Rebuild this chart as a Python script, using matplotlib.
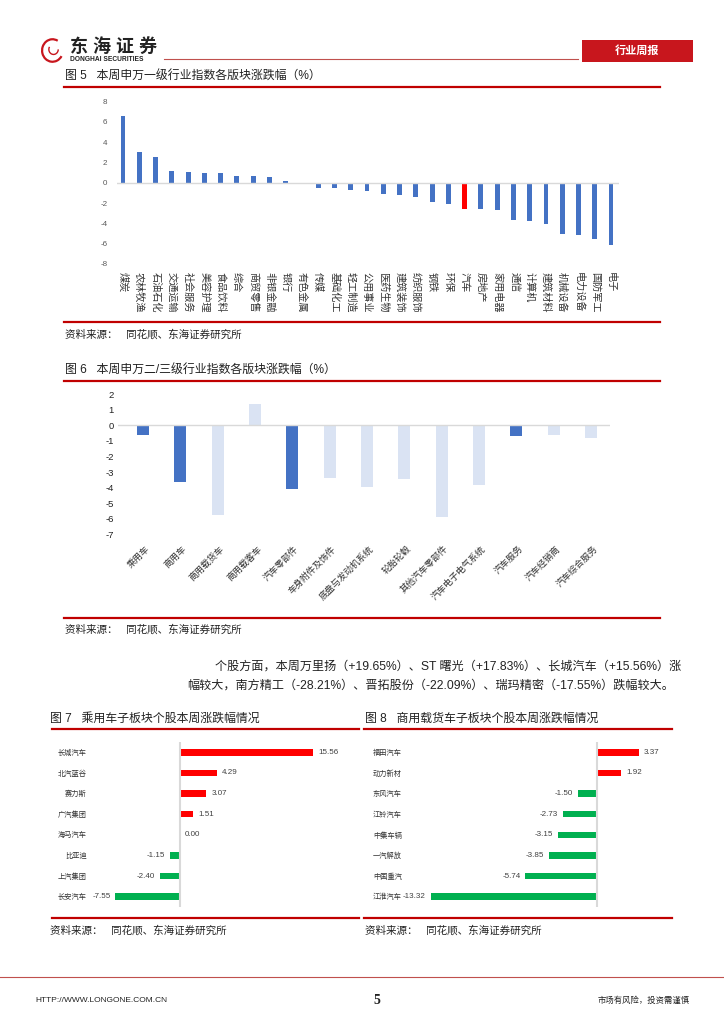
import matplotlib
matplotlib.use('Agg')
import matplotlib.pyplot as plt
from matplotlib.patches import Rectangle, Arc

plt.rcParams['font.family'] = ['Liberation Sans', 'Noto Sans CJK SC', 'DejaVu Sans']
plt.rcParams['axes.unicode_minus'] = False

W, H = 724, 1024

# 图5 申万一级行业
sw1_names = ['煤炭', '农林牧渔', '石油石化', '交通运输', '社会服务', '美容护理', '食品饮料',
             '综合', '商贸零售', '非银金融', '银行', '有色金属', '传媒', '基础化工', '轻工制造',
             '公用事业', '医药生物', '建筑装饰', '纺织服饰', '钢铁', '环保', '汽车', '房地产',
             '家用电器', '通信', '计算机', '建筑材料', '机械设备', '电力设备', '国防军工', '电子']
sw1_values = [6.62, 3.08, 2.59, 1.21, 1.11, 1.02, 0.95, 0.72, 0.72, 0.62, 0.23, 0.02,
              -0.46, -0.46, -0.66, -0.79, -1.13, -1.21, -1.41, -1.90, -2.10, -2.56, -2.59,
              -2.69, -3.64, -3.77, -4.07, -5.02, -5.15, -5.54, -6.16]
highlight = '汽车'

# 图6 申万二/三级行业
sw23_names = ['乘用车', '商用车', '商用载货车', '商用载客车', '汽车零部件', '车身附件及饰件',
              '底盘与发动机系统', '轮胎轮毂', '其他汽车零部件', '汽车电子电气系统',
              '汽车服务', '汽车经销商', '汽车综合服务']
sw23_values = [-0.60, -3.66, -5.76, 1.37, -4.07, -3.40, -3.96, -3.45, -5.89, -3.83,
               -0.69, -0.64, -0.79]
sw23_level2 = ['乘用车', '商用车', '汽车零部件', '汽车服务']

# 图7 乘用车
car_names = ['长城汽车', '北汽蓝谷', '赛力斯', '广汽集团', '海马汽车', '比亚迪', '上汽集团', '长安汽车']
car_values = [15.56, 4.29, 3.07, 1.51, 0.00, -1.15, -2.40, -7.55]

# 图8 商用载货车
truck_names = ['福田汽车', '动力新材', '东风汽车', '江铃汽车', '中集车辆', '一汽解放', '中国重汽', '江淮汽车']
truck_values = [3.37, 1.92, -1.50, -2.73, -3.15, -3.85, -5.74, -13.32]

RED = '#C00000'
BLUE = '#4472C4'
LIGHT = '#DAE3F3'
UP = '#FF0000'
DOWN = '#00B050'

fig = plt.figure(figsize=(W / 100, H / 100), dpi=100)


def box(x0, y0, x1, y1):
    return [x0 / W, 1 - y1 / H, (x1 - x0) / W, (y1 - y0) / H]


def ftext(x, y, s, **kw):
    kw.setdefault('va', 'center')
    fig.text(x / W, 1 - y / H, s, **kw)


def hline(x0, x1, y, color=RED, lw=1.6):
    fig.add_artist(plt.Line2D([x0 / W, x1 / W], [1 - y / H, 1 - y / H], color=color, lw=lw))


# ---- page header ----
logo = fig.add_axes(box(40, 37, 65, 64))
logo.set_xlim(-1.2, 1.2)
logo.set_ylim(-1.2, 1.2)
logo.add_patch(Arc((0, 0), 2, 2, theta1=60, theta2=330, color='#C8161D', lw=1.6))
logo.add_patch(Arc((0.1, 0.1), 0.9, 0.9, theta1=150, theta2=360, color='#C8161D', lw=1.0))
logo.axis('off')
ftext(70, 47, '东 海 证 券', fontsize=13, fontweight='bold', color='#222222')
ftext(70, 59.5, 'DONGHAI SECURITIES', fontsize=4.8, fontweight='bold', color='#222222')
hline(164, 578, 59, color='#C0504D', lw=0.8)
fig.add_artist(Rectangle((582 / W, 1 - 62 / H), 111 / W, 22 / H, transform=fig.transFigure,
                         facecolor='#C8161D', edgecolor='none'))
ftext(637, 51, '行业周报', fontsize=8, fontweight='bold', color='white', ha='center')

TITLE = dict(fontsize=8.6, color='#222222')
SRC = dict(fontsize=7.6, color='#222222')

# ---- 图5 ----
ftext(65, 77, '图 5   本周申万一级行业指数各版块涨跌幅（%）', **TITLE)
hline(64, 660, 87)

ax5 = fig.add_axes(box(117, 101.7, 619, 264))
x5 = range(len(sw1_names))
colors5 = [UP if n == highlight else BLUE for n in sw1_names]
ax5.bar(x5, sw1_values, width=0.3, color=colors5)
ax5.axhline(0, color='#D9D9D9', lw=1)
ax5.set_xlim(-0.37, 30.49)
ax5.set_ylim(-8, 8)
ax5.set_yticks(range(-8, 9, 2))
ax5.set_xticks([])
ax5.tick_params(axis='y', length=0, labelsize=5.8, labelcolor='#595959', pad=7)
for s in ax5.spines.values():
    s.set_visible(False)
for i, n in enumerate(sw1_names):
    ax5.text(i, -0.05, n, rotation=-90, ha='center', va='top', fontsize=7.3,
             color='#333333', transform=ax5.get_xaxis_transform())

hline(64, 660, 322)
ftext(65, 334, '资料来源：   同花顺、东海证券研究所', **SRC)

# ---- 图6 ----
ftext(65, 371, '图 6   本周申万二/三级行业指数各版块涨跌幅（%）', **TITLE)
hline(64, 660, 381)

ax6 = fig.add_axes(box(118, 394.3, 610, 534.3))
x6 = range(len(sw23_names))
colors6 = [BLUE if n in sw23_level2 else LIGHT for n in sw23_names]
ax6.bar(x6, sw23_values, width=0.32, color=colors6)
ax6.axhline(0, color='#D9D9D9', lw=1)
ax6.set_xlim(-0.67, 12.51)
ax6.set_ylim(-7, 2)
ax6.set_yticks(range(-7, 3))
ax6.set_xticks([])
ax6.tick_params(axis='y', length=0, labelsize=6.8, labelcolor='#222222', pad=3)
for s in ax6.spines.values():
    s.set_visible(False)
for i, n in enumerate(sw23_names):
    ax6.text(i + 0.05, -0.07, n, rotation=45, ha='right', va='top', rotation_mode='anchor',
             fontsize=6.5, color='#333333', transform=ax6.get_xaxis_transform())

hline(64, 660, 618)
ftext(65, 629, '资料来源：   同花顺、东海证券研究所', **SRC)

# ---- 正文 ----
ftext(215, 667, '个股方面，本周万里扬（+19.65%）、ST 曙光（+17.83%）、长城汽车（+15.56%）涨',
      fontsize=8.7, color='#222222')
ftext(187, 686, '幅较大，南方精工（-28.21%）、晋拓股份（-22.09%）、瑞玛精密（-17.55%）跌幅较大。',
      fontsize=8.7, color='#222222')


# ---- 图7 / 图8 ----
def hbar_panel(rect, names, values, xlim, label_pad):
    ax = fig.add_axes(rect)
    y = range(len(names))
    cols = [UP if v > 0 else DOWN for v in values]
    ax.barh(y, values, height=0.32, color=cols)
    ax.axvline(0, color='#D9D9D9', lw=1.5)
    ax.set_xlim(*xlim)
    ax.set_ylim(len(names) - 0.5, -0.5)
    ax.set_xticks([])
    ax.set_yticks(list(y))
    ax.set_yticklabels(names)
    ax.tick_params(axis='y', length=0, labelsize=5.2, labelcolor='#333333', pad=label_pad)
    for s in ax.spines.values():
        s.set_visible(False)
    for i, v in enumerate(values):
        if v < 0:
            ax.annotate(f'{v:.2f}', (v, i), xytext=(-3.6, 0), textcoords='offset points',
                        ha='right', va='center', fontsize=5.8, color='#404040')
        else:
            ax.annotate(f'{v:.2f}', (v, i), xytext=(3.6, 0), textcoords='offset points',
                        ha='left', va='center', fontsize=5.8, color='#404040')
    return ax


ftext(50, 719, '图 7   乘用车子板块个股本周涨跌幅情况', **TITLE)
hline(52, 359, 729)
hbar_panel(box(110, 742, 340, 907), car_names, car_values, (-8.19, 18.71), 16.6)
hline(52, 359, 918)
ftext(50, 930, '资料来源：   同花顺、东海证券研究所', **SRC)

ftext(365, 719, '图 8   商用载货车子板块个股本周涨跌幅情况', **TITLE)
hline(364, 672, 729)
hbar_panel(box(410, 742, 660, 907), truck_names, truck_values, (-15.0, 5.05), 5.8)
hline(364, 672, 918)
ftext(365, 930, '资料来源：   同花顺、东海证券研究所', **SRC)

# ---- footer ----
hline(0, 724, 977, color='#C0504D', lw=0.8)
ftext(35, 1001, 'HTTP://WWW.LONGONE.COM.CN', fontsize=6, color='#222222')
ftext(377, 1001, '5', fontsize=10, fontweight='bold', color='#222222', ha='center',
      family='Liberation Serif')
ftext(690, 1001, '市场有风险，投资需谨慎', fontsize=6, color='#222222', ha='right')

fig.savefig('out.png', dpi=100)
